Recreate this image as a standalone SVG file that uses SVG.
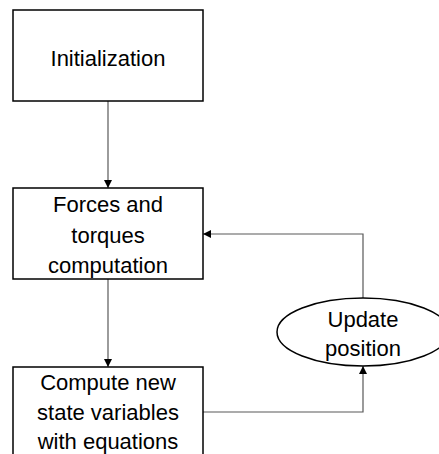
<svg xmlns="http://www.w3.org/2000/svg" width="439" height="454" viewBox="0 0 439 454">
<defs>
<style>
.box{fill:#fff;stroke:#000;stroke-width:1.5}
.t{font-family:"Liberation Sans","Open Sans",sans-serif;font-size:22px;fill:#000;text-anchor:middle}
.c{fill:none;stroke:#595959;stroke-width:1.2}
</style>
<marker id="ah" viewBox="0 0 10 10" refX="10" refY="5" markerWidth="8" markerHeight="8" markerUnits="userSpaceOnUse" orient="auto">
<path d="M0,0 L10,5 L0,10 z" fill="#000"/>
</marker>
</defs>
<rect width="439" height="454" fill="#fff"/>
<g id="connectors">
<path class="c" d="M108,101 V188" marker-end="url(#ah)"/>
<path class="c" d="M108,279 V367" marker-end="url(#ah)"/>
<path class="c" d="M203,412 H363 V366" marker-end="url(#ah)"/>
<path class="c" d="M363,298 V234 H203" marker-end="url(#ah)"/>
</g>
<g id="init">
<rect class="box" x="13" y="10" width="190" height="91"/>
<text class="t" x="108" y="66">Initialization</text>
</g>
<g id="forces">
<rect class="box" x="13" y="188" width="190" height="91"/>
<text class="t" x="108" y="212">Forces and</text>
<text class="t" x="108" y="243">torques</text>
<text class="t" x="108" y="273">computation</text>
</g>
<g id="update">
<ellipse cx="363" cy="332" rx="86" ry="34" fill="#fff" stroke="#000" stroke-width="1.5"/>
<text class="t" x="363" y="327">Update</text>
<text class="t" x="363" y="356">position</text>
</g>
<g id="compute">
<rect class="box" x="13" y="367" width="190" height="100"/>
<text class="t" x="108" y="390">Compute new</text>
<text class="t" x="108" y="420">state variables</text>
<text class="t" x="108" y="449">with equations</text>
</g>
</svg>
